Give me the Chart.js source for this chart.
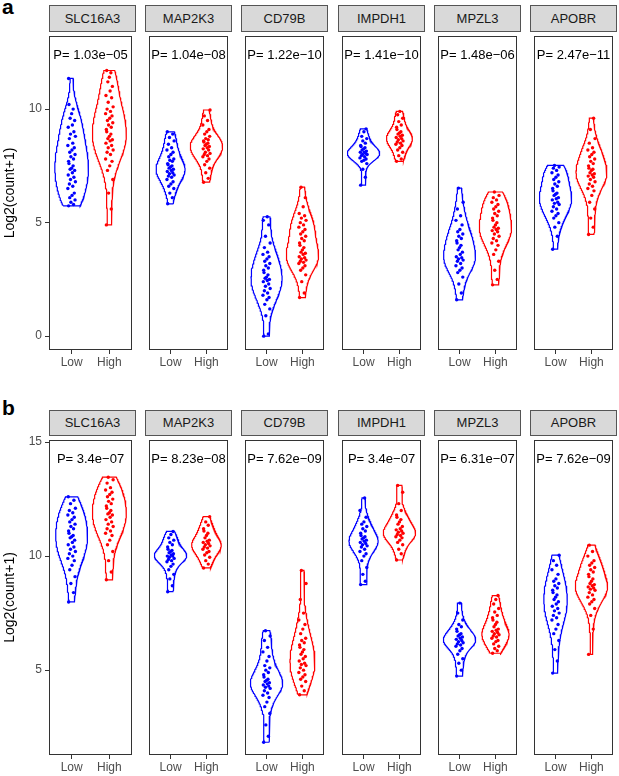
<!DOCTYPE html>
<html>
<head>
<meta charset="utf-8">
<script src="https://cdn.jsdelivr.net/npm/chart.js@4.4.0/dist/chart.umd.min.js"></script>
<style>
  body { margin: 0; background: #fff; width: 619px; height: 776px; position: relative; overflow: hidden;
         font-family: "Liberation Sans", Arial, sans-serif; }
  canvas { position: absolute; }
  .strip { position: absolute; box-sizing: border-box; background: #d9d9d9; border: 1px solid #555;
           color: #1a1a1a; font-size: 13px; text-align: center; }
  .tag { position: absolute; left: 2px; font-weight: bold; font-size: 21px; line-height: 21px; color: #000; }
</style>
</head>
<body>
<div class="tag" style="top:-4px">a</div>
<div class="tag" style="top:397px">b</div>
<script>
// genes (facets) and groups
const genes = ["SLC16A3", "MAP2K3", "CD79B", "IMPDH1", "MPZL3", "APOBR"];
const groups = ["Low", "High"];

// p-values printed in each panel
const pvalA = ["1.03e\u221205", "1.04e\u221208", "1.22e\u221210", "1.41e\u221210", "1.48e\u221206", "2.47e\u221211"];
const pvalB = ["3.4e\u221207", "8.23e\u221208", "7.62e\u221209", "3.4e\u221207", "6.31e\u221207", "7.62e\u221209"];

// y tick labels
const yTicksA = [0, 5, 10];
const yTicksB = [5, 10, 15];

// horizontal jitter of the dots (fixed offsets, reused in turn)
const jitter = [-0.08, 0.05, -0.02, 0.09, -0.05, 0.01, 0.07, -0.1, 0.03, -0.06, 0.1, -0.03, 0.06, -0.09, 0.02, 0.08, -0.04, 0.0, 0.04, -0.07];

// panel a values, log2(count+1)
const aLow = [
  [5.74,5.8,5.9,6.0,6.1,6.2,6.3,6.5,6.6,6.7,6.8,6.9,7.0,7.1,7.2,7.3,7.35,7.4,7.5,7.6,7.7,7.8,7.9,8.0,8.1,8.2,8.3,8.4,8.5,8.7,8.8,8.9,9.0,9.2,9.3,9.5,9.6,9.8,10.0,10.2,11.35],
  [5.83,6.1,6.3,6.5,6.6,6.7,6.8,6.9,7.0,7.05,7.1,7.15,7.2,7.25,7.3,7.35,7.4,7.45,7.5,7.55,7.6,7.7,7.75,7.8,7.9,8.0,8.1,8.2,8.3,8.45,8.6,8.75,8.9,9.0],
  [0.0,0.1,0.9,1.2,1.4,1.6,1.7,1.8,1.9,2.0,2.1,2.2,2.3,2.4,2.45,2.5,2.55,2.6,2.7,2.8,2.9,3.0,3.1,3.2,3.3,3.4,3.5,3.6,3.7,3.9,4.1,4.4,4.9,5.1,5.26],
  [6.65,7.0,7.35,7.6,7.7,7.75,7.8,7.85,7.9,7.95,8.0,8.0,8.05,8.1,8.1,8.15,8.2,8.25,8.3,8.35,8.4,8.5,8.6,8.7,8.8,9.0,9.13],
  [1.6,1.9,2.3,2.6,2.8,2.9,3.0,3.1,3.2,3.3,3.35,3.4,3.45,3.5,3.6,3.7,3.8,3.9,4.0,4.1,4.2,4.3,4.4,4.5,4.6,4.7,4.9,5.1,5.3,5.6,5.9,6.52],
  [3.83,4.4,4.8,5.0,5.2,5.3,5.4,5.5,5.6,5.7,5.8,5.85,5.9,6.0,6.05,6.1,6.2,6.25,6.3,6.4,6.5,6.6,6.7,6.8,6.9,7.0,7.1,7.2,7.3,7.4,7.45,7.52]
];
const aHigh = [
  [4.9,5.6,6.3,6.9,7.3,7.5,7.7,7.8,8.0,8.1,8.2,8.3,8.4,8.5,8.6,8.65,8.7,8.8,8.9,9.0,9.1,9.2,9.3,9.4,9.5,9.6,9.7,9.8,9.9,10.0,10.1,10.3,10.5,10.6,10.8,11.0,11.2,11.4,11.6,11.7],
  [6.78,6.95,7.2,7.4,7.55,7.7,7.8,7.9,7.95,8.0,8.05,8.1,8.2,8.25,8.3,8.35,8.4,8.45,8.5,8.55,8.6,8.65,8.7,8.8,8.9,9.0,9.1,9.3,9.5,9.7,9.96],
  [1.7,1.9,2.4,2.7,2.9,3.0,3.1,3.2,3.25,3.3,3.35,3.4,3.45,3.5,3.6,3.65,3.7,3.8,3.9,4.0,4.1,4.2,4.3,4.4,4.5,4.6,4.7,4.8,4.9,5.0,5.1,5.2,5.3,5.4,5.7,6.1,6.56],
  [7.7,7.8,7.95,8.1,8.2,8.3,8.4,8.45,8.5,8.55,8.6,8.65,8.7,8.75,8.8,8.85,8.9,8.95,9.0,9.1,9.2,9.3,9.45,9.6,9.75,9.9],
  [2.26,2.5,2.9,3.3,3.6,3.8,4.0,4.1,4.2,4.3,4.4,4.5,4.6,4.65,4.7,4.75,4.8,4.9,5.0,5.1,5.2,5.3,5.4,5.5,5.6,5.7,5.8,5.9,6.0,6.1,6.2,6.35],
  [4.48,4.8,5.2,5.6,5.9,6.2,6.4,6.5,6.6,6.7,6.8,6.9,7.0,7.05,7.1,7.15,7.2,7.3,7.35,7.4,7.5,7.6,7.7,7.8,7.9,8.0,8.1,8.2,8.3,8.5,8.7,9.1,9.6]
];

// panel b values
const bLow = [
  [7.99,8.4,8.8,9.1,9.4,9.6,9.8,9.9,10.0,10.1,10.2,10.3,10.4,10.5,10.6,10.7,10.8,10.85,10.9,11.0,11.1,11.2,11.3,11.4,11.5,11.6,11.7,11.8,11.9,12.0,12.1,12.3,12.45,12.6],
  [8.44,8.7,9.0,9.2,9.4,9.55,9.65,9.75,9.8,9.85,9.9,9.95,10.0,10.0,10.05,10.1,10.15,10.2,10.25,10.3,10.4,10.5,10.6,10.7,10.8,10.95,11.08],
  [1.84,2.1,2.6,3.1,3.4,3.6,3.8,3.9,4.0,4.1,4.2,4.25,4.3,4.35,4.4,4.45,4.5,4.55,4.6,4.7,4.8,4.9,5.0,5.1,5.2,5.4,5.6,5.8,6.0,6.3,6.5,6.73],
  [8.75,8.9,9.2,9.5,9.8,10.0,10.1,10.2,10.3,10.4,10.45,10.5,10.55,10.6,10.65,10.7,10.75,10.8,10.85,10.9,11.0,11.1,11.2,11.3,11.4,11.5,11.7,12.0,12.55],
  [4.74,5.0,5.3,5.5,5.7,5.85,5.95,6.05,6.1,6.15,6.2,6.25,6.3,6.35,6.4,6.45,6.5,6.55,6.6,6.7,6.8,6.9,7.0,7.2,7.5,7.94],
  [4.87,5.4,5.9,6.3,6.6,6.8,7.0,7.2,7.3,7.4,7.5,7.6,7.7,7.8,7.9,8.0,8.1,8.2,8.3,8.4,8.5,8.6,8.7,8.8,8.9,9.0,9.2,9.4,9.6,9.8,10.04]
];
const bHigh = [
  [8.96,9.3,9.8,10.2,10.5,10.7,10.9,11.0,11.1,11.2,11.3,11.4,11.5,11.6,11.7,11.8,11.85,11.9,12.0,12.1,12.2,12.3,12.4,12.5,12.6,12.7,12.8,12.9,13.0,13.2,13.35,13.46],
  [9.48,9.65,9.8,9.95,10.05,10.15,10.2,10.3,10.35,10.4,10.45,10.5,10.55,10.6,10.65,10.7,10.8,10.9,11.0,11.1,11.2,11.35,11.5,11.73],
  [3.92,4.1,4.3,4.5,4.6,4.7,4.8,4.9,5.0,5.1,5.2,5.25,5.3,5.4,5.5,5.6,5.7,5.8,5.9,6.0,6.1,6.2,6.3,6.4,6.6,6.8,7.0,7.2,7.5,8.1,8.8,9.37],
  [9.83,10.1,10.3,10.5,10.6,10.7,10.8,10.85,10.9,10.95,11.0,11.05,11.1,11.15,11.2,11.3,11.4,11.5,11.6,11.7,11.8,12.0,12.3,12.8,13.1],
  [5.74,5.85,5.95,6.05,6.15,6.25,6.3,6.4,6.45,6.5,6.55,6.6,6.65,6.7,6.75,6.8,6.9,7.0,7.1,7.2,7.3,7.4,7.55,7.7,7.9,8.1,8.27],
  [5.69,6.8,7.4,7.7,7.9,8.0,8.1,8.2,8.3,8.4,8.5,8.55,8.6,8.65,8.7,8.75,8.8,8.9,9.0,9.1,9.2,9.3,9.4,9.5,9.6,9.7,9.8,10.0,10.2,10.48]
];

const colors = ["#0000ff", "#ff0000"];
const FONT = "'Liberation Sans', Arial, sans-serif";

// layout of the two rows of facets
const rows = [
  { stripTop: 5, top: 32, h: 318, ymin: -0.61, ymax: 13.22, ticks: yTicksA, low: aLow, high: aHigh, p: pvalA },
  { stripTop: 410, top: 436, h: 319, ymin: 1.28, ymax: 15.09, ticks: yTicksB, low: bLow, high: bHigh, p: pvalB }
];
const PANEL_W = 87, AXW = 49, XAH = 22;
function panelLeft(i) { return Math.round(49 + i * 96.2); }

// gaussian kde like geom_violin (bw.nrd0, trimmed)
function quantile(s, p) {
  const h = (s.length - 1) * p, lo = Math.floor(h);
  const hi = Math.min(lo + 1, s.length - 1);
  return s[lo] + (h - lo) * (s[hi] - s[lo]);
}
function bwNrd0(x) {
  const n = x.length;
  const m = x.reduce((a, b) => a + b, 0) / n;
  const sd = Math.sqrt(x.reduce((a, b) => a + (b - m) * (b - m), 0) / (n - 1));
  const s = [...x].sort((a, b) => a - b);
  let lo = Math.min(sd, (quantile(s, 0.75) - quantile(s, 0.25)) / 1.34);
  if (!(lo > 0)) lo = sd;
  return 0.9 * lo * Math.pow(n, -0.2);
}
function kde(x) {
  const h = bwNrd0(x), n = x.length;
  const mn = Math.min(...x), mx = Math.max(...x);
  const out = [];
  for (let i = 0; i < 120; i++) {
    const y = mn + (mx - mn) * i / 119;
    let d = 0;
    x.forEach(v => { const z = (y - v) / h; d += Math.exp(-0.5 * z * z); });
    out.push({ y: y, d: d / (n * h * Math.sqrt(2 * Math.PI)) });
  }
  return out;
}

// box around the plotting area + the p-value label
function panelPlugin(ptext) {
  return {
    id: "panel",
    afterDatasetsDraw(chart) {
      const a = chart.chartArea, ctx = chart.ctx;
      ctx.save();
      ctx.strokeStyle = "#333";
      ctx.lineWidth = 1;
      ctx.strokeRect(a.left + 0.5, a.top + 0.5, a.right - a.left - 1, a.bottom - a.top - 1);
      ctx.fillStyle = "#000";
      ctx.font = "13px " + FONT;
      ctx.textAlign = "center";
      ctx.textBaseline = "middle";
      ctx.fillText("P= " + ptext, (a.left + a.right) / 2, a.top + 19.5);
      ctx.restore();
    }
  };
}

rows.forEach(row => {
  genes.forEach((gene, i) => {
    const left = panelLeft(i);
    const first = i === 0;

    const strip = document.createElement("div");
    strip.className = "strip";
    strip.textContent = gene;
    strip.style.left = left + "px";
    strip.style.top = row.stripTop + "px";
    strip.style.width = PANEL_W + "px";
    strip.style.height = (row.top - row.stripTop) + "px";
    strip.style.lineHeight = (row.top - row.stripTop - 2) + "px";
    document.body.appendChild(strip);

    const cv = document.createElement("canvas");
    const cw = PANEL_W + (first ? AXW : 0);
    cv.width = cw;
    cv.height = row.h + XAH;
    cv.style.left = (first ? left - AXW : left) + "px";
    cv.style.top = row.top + "px";
    document.body.appendChild(cv);

    const sets = [row.low[i], row.high[i]];
    const dens = sets.map(kde);
    const maxD = Math.max(...dens.map(ds => Math.max(...ds.map(p => p.d))));

    const datasets = [];
    sets.forEach((vals, g) => {
      const c = g + 1;
      const leftSide = dens[g].map(p => ({ x: c - 0.45 * p.d / maxD, y: p.y }));
      const rightSide = dens[g].slice().reverse().map(p => ({ x: c + 0.45 * p.d / maxD, y: p.y }));
      datasets.push({
        data: leftSide.concat(rightSide, [leftSide[0]]),
        showLine: true, borderColor: colors[g], borderWidth: 1.2,
        pointRadius: 0, fill: false, tension: 0, order: 2
      });
      datasets.push({
        data: vals.map((v, k) => ({ x: c + jitter[k % jitter.length], y: v })),
        showLine: false, pointRadius: 1.7, pointBorderWidth: 0,
        backgroundColor: colors[g], borderColor: colors[g], order: 1
      });
    });

    new Chart(cv, {
      type: "scatter",
      data: { datasets: datasets },
      options: {
        responsive: false,
        animation: false,
        events: [],
        layout: { padding: 0 },
        plugins: { legend: { display: false }, tooltip: { enabled: false } },
        scales: {
          x: {
            type: "linear", min: 0.4, max: 2.6,
            afterBuildTicks: s => { s.ticks = [{ value: 1 }, { value: 2 }]; },
            afterFit: s => { s.height = XAH; s.paddingLeft = 0; s.paddingRight = 0; },
            grid: { drawOnChartArea: false, drawTicks: true, tickLength: 4, tickColor: "#333", color: "#333" },
            border: { display: false },
            ticks: { padding: 1, color: "#4d4d4d", font: { size: 12, family: FONT }, maxRotation: 0, autoSkip: false,
                     callback: (v, idx) => groups[idx] }
          },
          y: {
            type: "linear", min: row.ymin, max: row.ymax, display: first,
            afterBuildTicks: s => { s.ticks = row.ticks.map(v => ({ value: v })); },
            afterFit: s => { s.width = first ? AXW : 0; s.paddingTop = 0; s.paddingBottom = 0; },
            grid: { drawOnChartArea: false, drawTicks: true, tickLength: 4, tickColor: "#333", color: "#333" },
            border: { display: false },
            ticks: { padding: 3, color: "#4d4d4d", font: { size: 12, family: FONT } },
            title: { display: true, text: "Log2(count+1)", color: "#000", font: { size: 14, family: FONT },
                     padding: { top: 2, bottom: 0 } }
          }
        }
      },
      plugins: [panelPlugin(row.p[i])]
    });
  });
});
</script>
</body>
</html>
